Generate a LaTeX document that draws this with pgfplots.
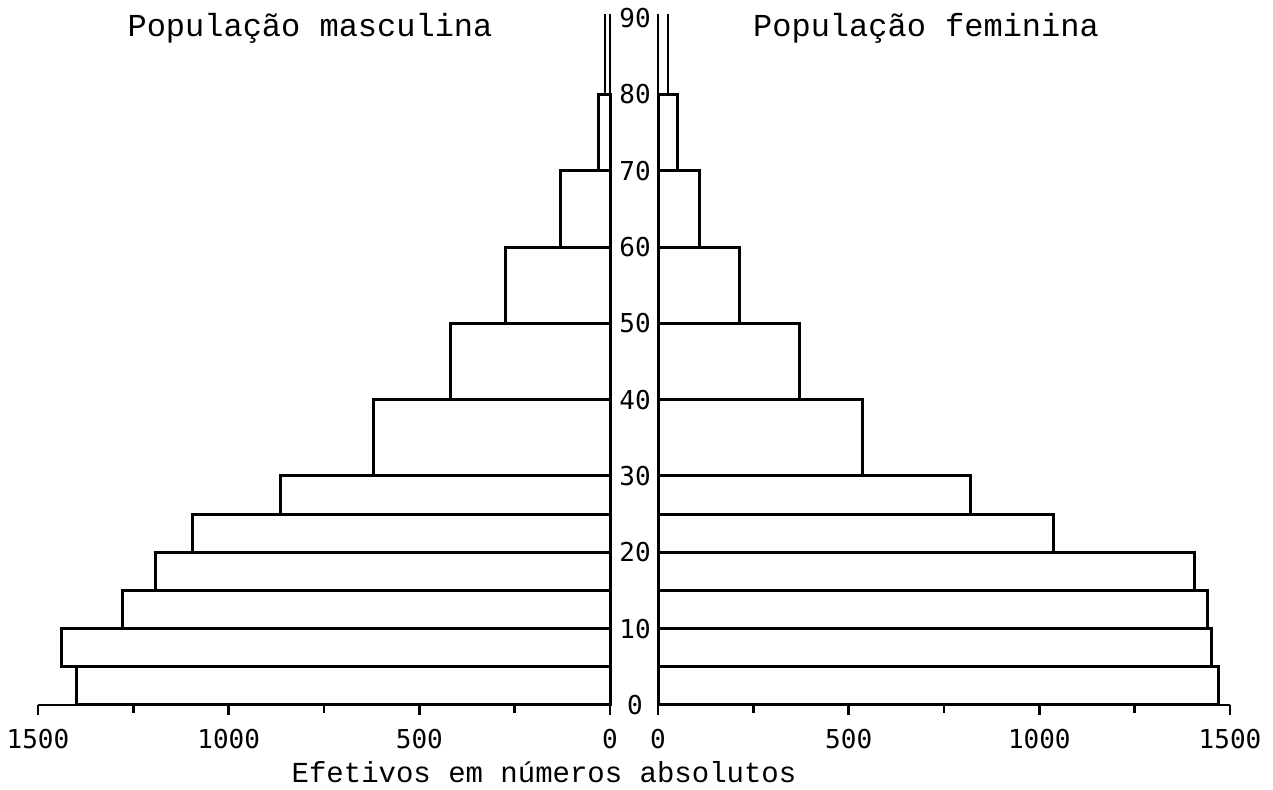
\documentclass[border=0pt]{standalone}
\usepackage{pgfplots}
\pgfplotsset{compat=1.18}
\usepackage{fontspec}
\setmainfont{Liberation Mono}
\newfontfamily\numfont{DejaVu Sans Mono}
\begin{document}
\begin{tikzpicture}
\path[use as bounding box] (0pt,0pt) rectangle (636.5pt,395pt);
\pgfplotsset{
  pyr/.style={
    scale only axis, width=286pt, height=345.4pt,
    xmin=0, xmax=1500, ymin=0, ymax=90.5,
    clip=false,
    axis x line*=bottom, hide y axis,
    axis line style={line width=1.4pt},
    xtick={0,500,1000,1500}, xticklabels={0,500,1000,1500},
    minor xtick={250,750,1250},
    tick align=outside,
    major tick length=5pt, minor tick length=4pt,
    tick style={line width=1.2pt, black},
    xticklabel style={font=\numfont\fontsize{13}{15}\selectfont, yshift=-3.5pt},
  }
}
% Male
\begin{axis}[pyr, x dir=reverse, at={(19pt,42.5pt)}, anchor=south west]
\addplot[xbar interval, fill=white, draw=black, line width=1.5pt] coordinates {
 (1400,0) (1438,5) (1278,10) (1192,15) (1094,20) (864,25) (619,30)
 (417,40) (273,50) (131,60) (31,70) (0,80)};
\addplot[black, line width=1.4pt] coordinates {(13,80) (13,90.5)};
\draw[line width=1.4pt] (axis cs:0,0) -- (axis cs:0,90.5);
\end{axis}
% Female
\begin{axis}[pyr, at={(329pt,42.5pt)}, anchor=south west]
\addplot[xbar interval, fill=white, draw=black, line width=1.5pt] coordinates {
 (1470,0) (1451,5) (1441,10) (1407,15) (1037,20) (819,25) (535,30)
 (370,40) (215,50) (110,60) (50,70) (0,80)};
\addplot[black, line width=1.4pt] coordinates {(26,80) (26,90.5)};
\draw[line width=1.4pt] (axis cs:0,0) -- (axis cs:0,90.5);
\pgfplotsinvokeforeach{0,10,20,30,40,50,60,70,80,90}{
  \node[font=\numfont\fontsize{13}{15}\selectfont, anchor=center] at ([xshift=-11.5pt]axis cs:0,#1) {#1};
}
\end{axis}
\node[anchor=base, font=\fontsize{16}{18}\selectfont] at (155pt,376.5pt) {População masculina};
\node[anchor=base, font=\fontsize{16}{18}\selectfont] at (463pt,376.5pt) {População feminina};
\node[anchor=base, font=\fontsize{14.5}{16}\selectfont] at (272pt,3.5pt) {Efetivos em números absolutos};
\end{tikzpicture}
\end{document}
